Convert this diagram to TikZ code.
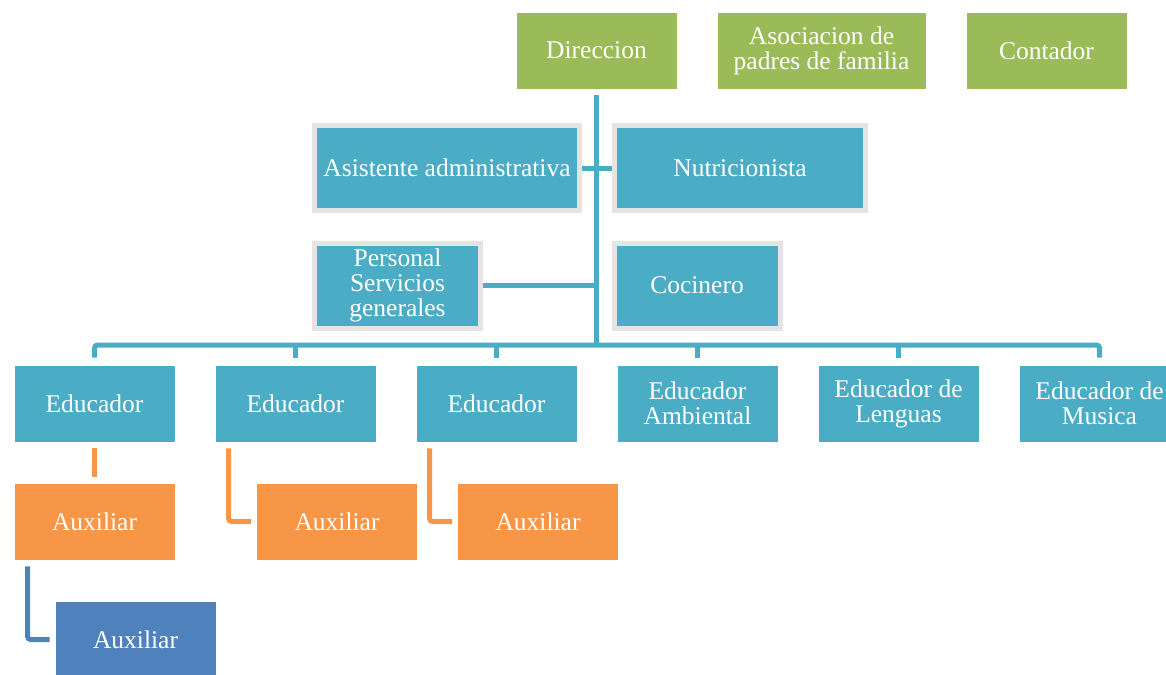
\documentclass[tikz,border=0pt]{standalone}
\usepackage{fontspec}
\setmainfont{Liberation Serif}
\usetikzlibrary{positioning,calc}

\definecolor{boxgreen}{HTML}{9BBB59}
\definecolor{boxteal}{HTML}{4BACC6}
\definecolor{boxorange}{HTML}{F79646}
\definecolor{boxblue}{HTML}{4F81BD}
\definecolor{boxgray}{HTML}{E4E4E4}

\tikzset{
  unit/.style={rectangle, draw=white, line width=0.8pt, text=white, align=center,
    minimum width=161pt, minimum height=77pt, inner sep=0pt,
    font=\fontsize{25.5}{25}\selectfont},
  board/.style={unit, fill=boxgreen},
  staff/.style={unit, fill=boxteal, draw=boxgray, line width=5pt, minimum height=85pt},
  teacher/.style={unit, fill=boxteal},
  helper/.style={unit, fill=boxorange},
  helperb/.style={unit, fill=boxblue},
  tealline/.style={draw=boxteal, line width=5pt},
  orangeline/.style={draw=boxorange, line width=5pt, rounded corners=3pt},
  blueline/.style={draw=boxblue, line width=5pt, rounded corners=3pt}
}

\begin{document}
\begin{tikzpicture}[x=1pt, y=-1pt]

\useasboundingbox (0,0) rectangle (1166,674);

% top row
\node[board] (dir) at (596.5,50.5) {Direccion};
\node[board, minimum width=209pt] (asoc) at (821.5,50.5) {Asociacion de\\padres de familia};
\node[board] (cont) at (1046.5,50.5) {Contador};

% staff
\node[staff, minimum width=265pt] (asist) at (447,168) {Asistente administrativa};
\node[staff, minimum width=251pt] (nutri) at (740,168) {Nutricionista};
\node[staff, minimum width=166pt] (pers) at (397.5,285.5) {Personal\\Servicios\\generales};
\node[staff, minimum width=166pt] (coci) at (697,285.5) {Cocinero};

% educators
\node[teacher] (edu1) at (94.5,403.5) {Educador};
\node[teacher, right=39.2pt of edu1] (edu2) {Educador};
\node[teacher, right=39.2pt of edu2] (edu3) {Educador};
\node[teacher, right=39.2pt of edu3] (edu4) {Educador\\Ambiental};
\node[teacher, right=39.2pt of edu4] (edu5) {Educador de\\Lenguas};
\node[teacher, right=39.2pt of edu5] (edu6) {Educador de\\Musica};

% auxiliars
\node[helper] (aux1) at (94.5,521.5) {Auxiliar};
\node[helper] (aux2) at (337,521.5) {Auxiliar};
\node[helper] (aux3) at (538,521.5) {Auxiliar};
\node[helperb] (aux4) at (135.5,639.5) {Auxiliar};

\coordinate (bus) at (596.5,345);

% trunk and bus
\draw[tealline] ([yshift=-6pt]dir.south) -- (bus);
\draw[tealline] (asist.east) -- (asist.east -| bus);
\draw[tealline] (nutri.west) -- (nutri.west -| bus);
\draw[tealline] (pers.east) -- (pers.east -| bus);
\draw[tealline, rounded corners=3pt] ([yshift=7pt]edu1.north) |- (bus) -| ([yshift=7pt]edu6.north);
\foreach \n in {2,...,5}
  \draw[tealline] ([yshift=7pt]edu\n.north) -- (edu\n.north |- bus);

% auxiliar links
\draw[orangeline] ([yshift=-6pt]edu1.south) -- ([yshift=6pt]aux1.north);
\draw[orangeline] ([xshift=14pt,yshift=-6pt]edu2.south west) |- ([xshift=-5pt]aux2.west);
\draw[orangeline] ([xshift=14pt,yshift=-6pt]edu3.south west) |- ([xshift=-5pt]aux3.west);
\draw[blueline] ([xshift=14pt,yshift=-6pt]aux1.south west) |- ([xshift=-5pt]aux4.west);

\end{tikzpicture}
\end{document}
